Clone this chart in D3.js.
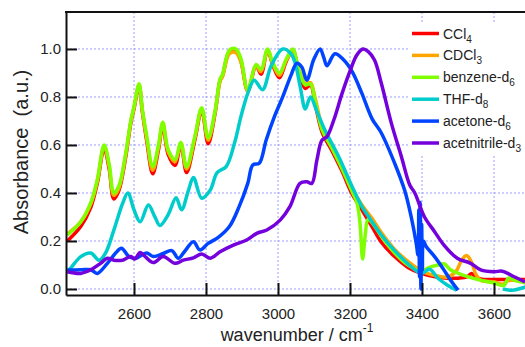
<!DOCTYPE html>
<html>
<head>
<meta charset="utf-8">
<script src="https://cdn.jsdelivr.net/npm/d3@7"></script>
<style>
  body { margin: 0; background: #fff; }
  svg { font-family: "Liberation Sans", Arial, sans-serif; }
</style>
</head>
<body>
<svg id="chart" width="525" height="347"></svg>
<script>
// [wavenumber, absorbance]
const ccl4 = [[2415,0.20],[2452,0.26],[2480,0.34],[2498,0.44],[2517,0.585],[2531,0.50],[2544,0.375],[2558,0.41],[2577,0.55],[2591,0.69],[2600,0.75],[2614,0.845],[2623,0.74],[2635,0.62],[2652,0.48],[2668,0.58],[2680,0.68],[2695,0.56],[2714,0.515],[2730,0.60],[2746,0.485],[2769,0.62],[2788,0.745],[2806,0.605],[2825,0.73],[2839,0.87],[2846,0.89],[2865,0.99],[2883,0.995],[2897,0.95],[2916,0.825],[2939,0.93],[2953,0.895],[2971,0.995],[2985,0.935],[3004,0.88],[3022,0.945],[3041,0.995],[3057,0.91],[3076,0.835],[3090,0.85],[3104,0.765],[3122,0.655],[3150,0.575],[3178,0.49],[3206,0.395],[3233,0.33],[3261,0.26],[3287,0.195],[3324,0.135],[3361,0.09],[3398,0.065],[3440,0.05],[3472,0.045],[3500,0.045],[3525,0.05],[3538,0.065],[3548,0.05],[3570,0.04],[3600,0.04],[3650,0.04],[3690,0.04]];

const cdcl3 = [[2415,0.23],[2452,0.28],[2480,0.355],[2498,0.45],[2517,0.595],[2531,0.51],[2544,0.39],[2558,0.42],[2577,0.56],[2591,0.695],[2600,0.755],[2614,0.85],[2623,0.745],[2635,0.63],[2652,0.495],[2668,0.59],[2680,0.69],[2695,0.57],[2714,0.53],[2730,0.605],[2746,0.50],[2769,0.63],[2788,0.75],[2806,0.62],[2825,0.735],[2839,0.865],[2846,0.885],[2865,0.98],[2883,0.985],[2897,0.945],[2916,0.825],[2939,0.93],[2953,0.905],[2971,0.995],[2985,0.94],[3004,0.89],[3022,0.95],[3041,0.99],[3057,0.92],[3076,0.855],[3090,0.86],[3104,0.79],[3122,0.68],[3150,0.60],[3178,0.515],[3206,0.42],[3233,0.35],[3261,0.295],[3287,0.235],[3324,0.165],[3361,0.115],[3398,0.075],[3440,0.055],[3472,0.05],[3495,0.075],[3510,0.12],[3524,0.14],[3538,0.11],[3550,0.06],[3565,0.035],[3600,0.03],[3625,0.02],[3640,0.035],[3690,0.03]];

const benzene = [[2415,0.225],[2452,0.28],[2480,0.36],[2498,0.455],[2517,0.60],[2531,0.52],[2544,0.40],[2558,0.43],[2577,0.565],[2591,0.70],[2600,0.76],[2614,0.855],[2623,0.75],[2635,0.64],[2652,0.51],[2668,0.60],[2680,0.695],[2695,0.58],[2714,0.54],[2730,0.61],[2746,0.51],[2769,0.635],[2788,0.755],[2806,0.63],[2825,0.74],[2839,0.875],[2846,0.895],[2865,0.995],[2883,1.0],[2897,0.96],[2916,0.83],[2939,0.935],[2953,0.915],[2971,1.0],[2985,0.945],[3004,0.9],[3022,0.955],[3041,1.0],[3057,0.915],[3076,0.85],[3090,0.855],[3104,0.775],[3122,0.665],[3150,0.585],[3178,0.50],[3206,0.405],[3220,0.355],[3228,0.27],[3235,0.125],[3242,0.22],[3250,0.29],[3262,0.275],[3287,0.22],[3324,0.15],[3361,0.10],[3398,0.075],[3420,0.09],[3445,0.10],[3461,0.105],[3479,0.08],[3510,0.06],[3553,0.04],[3600,0.025],[3628,0.015],[3640,0.045],[3660,0.035],[3690,0.025]];

const thf = [[2415,0.075],[2424,0.087],[2452,0.135],[2480,0.15],[2503,0.12],[2521,0.15],[2544,0.245],[2568,0.355],[2583,0.40],[2600,0.33],[2617,0.28],[2640,0.35],[2658,0.30],[2672,0.265],[2695,0.31],[2717,0.38],[2732,0.33],[2751,0.41],[2765,0.465],[2788,0.378],[2811,0.41],[2831,0.485],[2856,0.51],[2879,0.607],[2897,0.718],[2916,0.815],[2934,0.87],[2957,0.83],[2981,0.93],[3013,1.0],[3036,0.98],[3048,0.94],[3062,0.84],[3076,0.75],[3090,0.80],[3108,0.74],[3131,0.66],[3169,0.55],[3206,0.426],[3233,0.343],[3250,0.305],[3287,0.225],[3324,0.16],[3361,0.105],[3398,0.065],[3421,0.082],[3444,0.045],[3472,0.015],[3496,-0.005],[3560,null],[3625,0.0],[3650,-0.005],[3690,0.01]];

const acetone = [[2415,0.079],[2452,0.08],[2480,0.08],[2498,0.065],[2526,0.107],[2549,0.15],[2565,0.17],[2586,0.135],[2605,0.128],[2620,0.14],[2635,0.15],[2654,0.135],[2681,0.148],[2705,0.16],[2723,0.128],[2740,0.155],[2765,0.197],[2783,0.163],[2806,0.19],[2834,0.215],[2865,0.26],[2892,0.343],[2916,0.44],[2930,0.517],[2948,0.524],[2967,0.62],[2990,0.718],[3013,0.80],[3036,0.89],[3052,0.94],[3066,0.925],[3080,0.87],[3099,0.955],[3117,1.0],[3127,0.965],[3136,0.93],[3158,0.98],[3182,0.955],[3206,0.906],[3233,0.815],[3261,0.71],[3287,0.65],[3324,0.524],[3352,0.41],[3370,0.30],[3384,0.19],[3389,0.14],[3391,0.33],[3393,0.05],[3395,0.36],[3397,0.0],[3399,0.27],[3401,0.08],[3404,0.2],[3412,0.176],[3435,0.135],[3458,0.086],[3480,0.035],[3500,-0.005]];

const acetonitrile = [[2415,0.072],[2452,0.065],[2480,0.08],[2507,0.107],[2526,0.128],[2544,0.12],[2568,0.12],[2591,0.135],[2602,0.125],[2617,0.152],[2631,0.135],[2654,0.11],[2681,0.135],[2714,0.107],[2737,0.12],[2765,0.13],[2788,0.146],[2812,0.128],[2839,0.155],[2876,0.183],[2913,0.204],[2941,0.232],[2969,0.246],[3006,0.287],[3033,0.343],[3061,0.44],[3080,0.447],[3094,0.44],[3108,0.537],[3122,0.62],[3136,0.635],[3155,0.704],[3178,0.815],[3201,0.912],[3219,0.975],[3236,1.0],[3250,0.99],[3268,0.954],[3287,0.857],[3315,0.69],[3343,0.55],[3366,0.433],[3380,0.40],[3407,0.30],[3435,0.239],[3461,0.183],[3498,0.128],[3535,0.107],[3563,0.08],[3600,0.072],[3623,0.074],[3656,0.051],[3686,0.03]];

const seriesNames = [["CCl", "4"], ["CDCl", "3"], ["benzene-d", "6"], ["THF-d", "8"], ["acetone-d", "6"], ["acetnitrile-d", "3"]];
const seriesData = [ccl4, cdcl3, benzene, thf, acetone, acetonitrile];
const colors = ["#ff0000", "#ffa500", "#80ff00", "#00cccc", "#0044ff", "#7400dc"];

const xTicks = [2600, 2800, 3000, 3200, 3400, 3600];
const yTicks = [0, 0.2, 0.4, 0.6, 0.8, 1.0];

const plotLeft = 66, plotRight = 525, plotTop = 12, plotBottom = 295;

const svg = d3.select("#chart");

const x = d3.scaleLinear().domain([2411.1, 3686.1]).range([plotLeft, plotRight]);
const y = d3.scaleLinear().domain([-0.025, 1.154]).range([plotBottom, plotTop]);

// dotted grid
const grid = svg.append("g").attr("stroke", "#9c9cff").attr("stroke-width", 1).attr("stroke-dasharray", "2,2");
grid.selectAll(".gx").data(xTicks).enter().append("line")
  .attr("x1", d => x(d)).attr("x2", d => x(d))
  .attr("y1", plotTop).attr("y2", plotBottom);
grid.selectAll(".gy").data(yTicks).enter().append("line")
  .attr("x1", plotLeft).attr("x2", plotRight)
  .attr("y1", d => y(d)).attr("y2", d => y(d));

// spectra
svg.append("clipPath").attr("id", "plot")
  .append("rect").attr("x", plotLeft).attr("y", plotTop).attr("width", plotRight - plotLeft).attr("height", plotBottom - plotTop);

const line = d3.line()
  .defined(d => d[1] != null)
  .x(d => x(d[0]))
  .y(d => y(d[1]))
  .curve(d3.curveCatmullRom.alpha(0.5));

svg.append("g").attr("clip-path", "url(#plot)")
  .selectAll("path").data(seriesData).enter().append("path")
  .attr("d", line)
  .attr("fill", "none")
  .attr("stroke", (d, i) => colors[i])
  .attr("stroke-width", 3.5)
  .attr("stroke-linejoin", "round");

// axes
const xAxis = svg.append("g")
  .attr("transform", "translate(0," + plotBottom + ")")
  .call(d3.axisBottom(x).tickValues(xTicks).tickFormat(d3.format("d")).tickSize(-12).tickSizeOuter(0).tickPadding(13));

const yAxis = svg.append("g")
  .attr("transform", "translate(" + plotLeft + ",0)")
  .call(d3.axisLeft(y).tickValues(yTicks).tickFormat(d3.format(".1f")).tickSize(-11).tickSizeOuter(0).tickPadding(5));

[xAxis, yAxis].forEach(a => {
  a.select(".domain").attr("stroke", "#111").attr("stroke-width", 2);
  a.selectAll(".tick line").attr("stroke", "#111").attr("stroke-width", 2);
  a.selectAll(".tick text").attr("fill", "#222").style("font-size", "15px");
});

svg.append("line")
  .attr("x1", plotLeft - 1).attr("x2", plotRight)
  .attr("y1", plotTop).attr("y2", plotTop)
  .attr("stroke", "#111").attr("stroke-width", 2);

// axis titles
const xTitle = svg.append("text")
  .attr("x", 297).attr("y", 341)
  .attr("text-anchor", "middle")
  .attr("fill", "#222")
  .style("font-size", "18px")
  .text("wavenumber / cm");
xTitle.append("tspan").attr("dy", -9).style("font-size", "12px").text("-1");

svg.append("text")
  .attr("transform", "translate(28,152) rotate(-90)")
  .attr("text-anchor", "middle")
  .attr("fill", "#222")
  .style("font-size", "20px")
  .attr("xml:space", "preserve")
  .text("Absorbance  (a.u.)");

// legend
const legend = svg.append("g");
legend.append("rect")
  .attr("x", 410).attr("y", 22).attr("width", 115).attr("height", 132)
  .attr("fill", "#fff");

const entry = legend.selectAll(".entry").data(seriesNames).enter().append("g")
  .attr("transform", (d, i) => "translate(412," + (33.5 + i * 21.9) + ")");

entry.append("line")
  .attr("x1", 0).attr("x2", 27)
  .attr("stroke", (d, i) => colors[i])
  .attr("stroke-width", 3.5);

const label = entry.append("text")
  .attr("x", 31).attr("y", 5)
  .attr("fill", "#222")
  .style("font-size", "14px");
label.append("tspan").text(d => d[0]);
label.append("tspan").attr("dy", 4).style("font-size", "10px").text(d => d[1]);
</script>
</body>
</html>
